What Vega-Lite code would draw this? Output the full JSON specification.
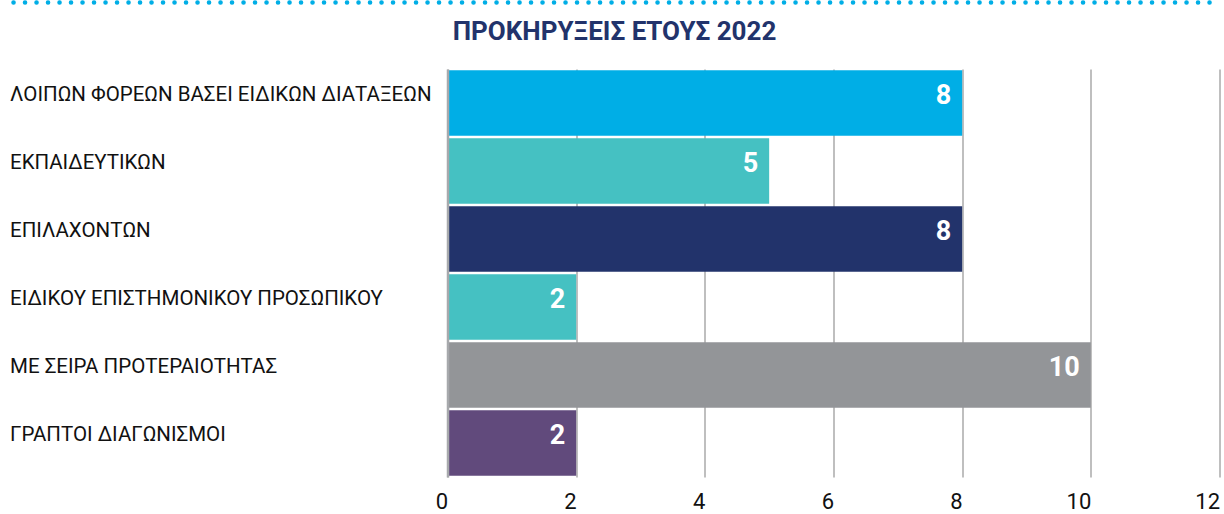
{
  "$schema": "https://vega.github.io/schema/vega-lite/v6.json",
  "padding": {"left": 9.5, "top": 0, "right": 0, "bottom": 0},
  "background": "white",
  "config": {"view": {"stroke": null}, "font": "Roboto"},
  "spacing": 14,
  "vconcat": [
    {
      "width": 772,
      "height": 3,
      "data": {"values": [{"a": -0.5622, "b": 0.9995}]},
      "mark": {"type": "rule", "stroke": "#00aee6", "strokeWidth": 4.5, "strokeCap": "round", "strokeDash": [0.1, 11.4], "clip": false},
      "encoding": {
        "x": {"field": "a", "type": "quantitative", "scale": {"domain": [0, 1], "nice": false, "zero": false}, "axis": null},
        "x2": {"field": "b"}
      }
    },
    {
      "width": 772,
      "height": 408,
      "title": {
        "text": "ΠΡΟΚΗΡΥΞΕΙΣ ΕΤΟΥΣ 2022",
        "font": "Roboto",
        "fontSize": 26,
        "fontWeight": "bold",
        "color": "#22336b",
        "anchor": "middle",
        "frame": "bounds",
        "offset": 24
      },
      "data": {
        "values": [
          {"category": "ΛΟΙΠΩΝ ΦΟΡΕΩΝ ΒΑΣΕΙ ΕΙΔΙΚΩΝ ΔΙΑΤΑΞΕΩΝ", "value": 8},
          {"category": "ΕΚΠΑΙΔΕΥΤΙΚΩΝ", "value": 5},
          {"category": "ΕΠΙΛΑΧΟΝΤΩΝ", "value": 8},
          {"category": "ΕΙΔΙΚΟΥ ΕΠΙΣΤΗΜΟΝΙΚΟΥ ΠΡΟΣΩΠΙΚΟΥ", "value": 2},
          {"category": "ΜΕ ΣΕΙΡΑ ΠΡΟΤΕΡΑΙΟΤΗΤΑΣ", "value": 10},
          {"category": "ΓΡΑΠΤΟΙ ΔΙΑΓΩΝΙΣΜΟΙ", "value": 2}
        ]
      },
      "encoding": {
        "y": {
          "field": "category",
          "type": "nominal",
          "sort": null,
          "scale": {"paddingInner": 0.04, "paddingOuter": 0.02},
          "axis": {
            "title": null,
            "ticks": false,
            "domainColor": "#a7a9ac",
            "domainWidth": 2.5,
            "zindex": 1,
            "labelAlign": "left",
            "labelBaseline": "middle",
            "labelPadding": 438,
            "labelOffset": -8,
            "labelLimit": 0,
            "labelFont": "Roboto",
            "labelFontSize": 20.5,
            "labelColor": "#111111"
          }
        },
        "x": {
          "field": "value",
          "type": "quantitative",
          "scale": {"domain": [0, 12], "nice": false},
          "axis": {
            "title": null,
            "values": [0, 2, 4, 6, 8, 10, 12],
            "domain": false,
            "ticks": false,
            "grid": true,
            "gridColor": "#aaaaaa",
            "gridWidth": 1.5,
            "labelAlign": "right",
            "labelPadding": 14,
            "labelFont": "Roboto",
            "labelFontSize": 22,
            "labelColor": "#111111"
          }
        }
      },
      "layer": [
        {
          "mark": {"type": "bar"},
          "encoding": {
            "color": {
              "field": "category",
              "type": "nominal",
              "legend": null,
              "scale": {
                "domain": [
                  "ΛΟΙΠΩΝ ΦΟΡΕΩΝ ΒΑΣΕΙ ΕΙΔΙΚΩΝ ΔΙΑΤΑΞΕΩΝ",
                  "ΕΚΠΑΙΔΕΥΤΙΚΩΝ",
                  "ΕΠΙΛΑΧΟΝΤΩΝ",
                  "ΕΙΔΙΚΟΥ ΕΠΙΣΤΗΜΟΝΙΚΟΥ ΠΡΟΣΩΠΙΚΟΥ",
                  "ΜΕ ΣΕΙΡΑ ΠΡΟΤΕΡΑΙΟΤΗΤΑΣ",
                  "ΓΡΑΠΤΟΙ ΔΙΑΓΩΝΙΣΜΟΙ"
                ],
                "range": ["#00aee6", "#45c1c2", "#22336b", "#45c1c2", "#939598", "#614a7c"]
              }
            }
          }
        },
        {
          "mark": {
            "type": "text",
            "align": "right",
            "baseline": "middle",
            "dx": -11,
            "dy": -7,
            "font": "Roboto",
            "fontSize": 27,
            "fontWeight": "bold",
            "color": "white"
          },
          "encoding": {"text": {"field": "value", "type": "quantitative"}}
        }
      ]
    }
  ]
}
